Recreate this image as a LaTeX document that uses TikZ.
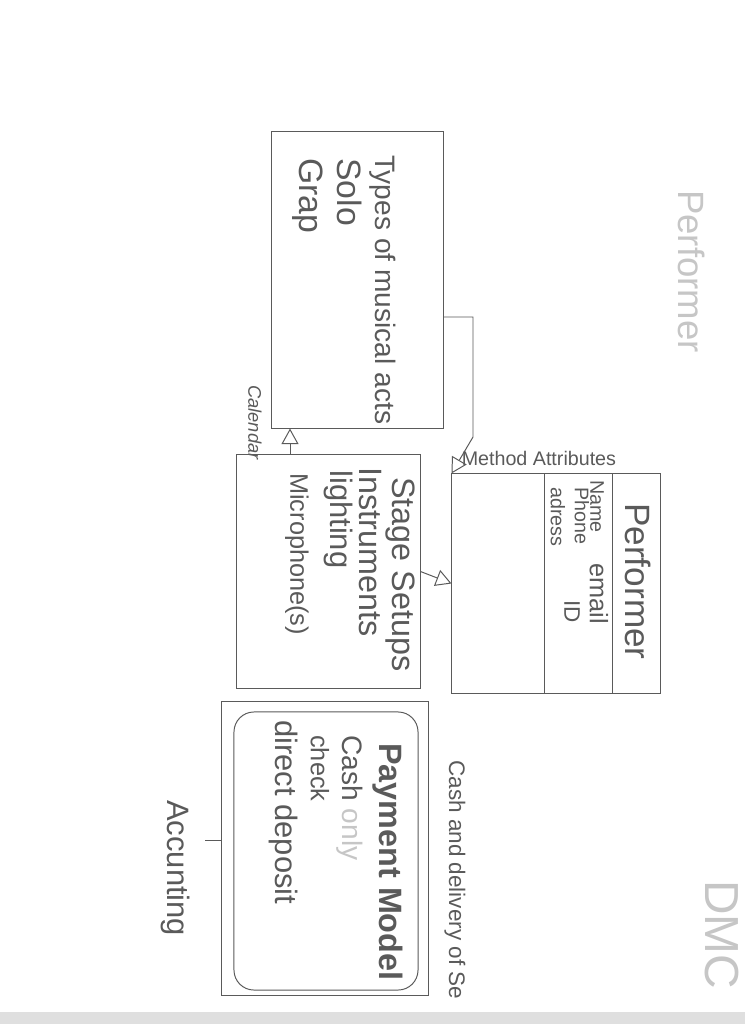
\documentclass[tikz,border=0pt]{standalone}
\usepackage{fontspec}
\setmainfont{Liberation Sans}
\usetikzlibrary{shapes,arrows,arrows.meta,positioning,calc}
\definecolor{pencil}{RGB}{90,90,90}
\newcommand{\fs}[1]{\fontsize{#1}{#1}\selectfont}
\tikzset{
box/.style = {draw=pencil, line width=0.7pt, rectangle, inner sep=0pt},
hand/.style = {text=pencil, rotate=-90, anchor=west, inner sep=0pt},
faint/.style = {text=gray!45, rotate=-90, anchor=west, inner sep=0pt},
link/.style = {draw=pencil, line width=0.7pt},
}

\begin{document}
\begin{tikzpicture}[x=0.025cm, y=-0.025cm, >={Triangle[open, length=11pt, width=12pt]}]
      \clip (0,0) rectangle (745,1024);
      \fill [white] (0,0) rectangle (745,1024);
      \fill [gray!25] (0,1012) rectangle (745,1024);
      % boxes
      \node [box, minimum width=4.275cm, minimum height=7.4cm] (types) at (357.5,280) {};
      \node [box, minimum width=4.575cm, minimum height=5.825cm] (stage) at (328.5,571.5) {};
      \node [box, minimum width=5.2cm, minimum height=5.475cm] (perf) at (556,583.5) {};
      \node [box, minimum width=5.15cm, minimum height=7.325cm] (pay) at (325,848.5) {};
      \node [box, rounded corners=0.5cm, minimum width=4.6cm, minimum height=6.95cm] (payin) at (326,851) {};
      \draw [link] ($(perf.north west)!0.447!(perf.north east)$) -- ($(perf.south west)!0.447!(perf.south east)$);
      \draw [link] ($(perf.north west)!0.769!(perf.north east)$) -- ($(perf.south west)!0.769!(perf.south east)$);
      % types of acts
      \node [hand, font=\fs{20}] (typestitle) at (383,155) {Types of musical acts};
      \node [hand, font=\fs{24}] (solo) at (350,158) {Solo};
      \node [hand, font=\fs{24}] (group) at (308,158) {Grap};
      % stage
      \node [hand, font=\fs{23}] (stagetitle) at (400,477) {Stage Setups};
      \node [hand, font=\fs{23}] (instr) at (370,467) {Instruments};
      \node [hand, font=\fs{22}] (light) at (338,470) {lighting};
      \node [hand, font=\fs{18}] (micro) at (297,473) {Microphone(s)};
      % performer
      \node [hand, font=\fs{25}] (perftitle) at (638,503) {Performer};
      \node [hand, font=\fs{14}] (name) at (597,480) {Name};
      \node [hand, font=\fs{18}] (email) at (599,563) {email};
      \node [hand, font=\fs{14}] (phone) at (582,487) {Phone};
      \node [hand, font=\fs{16}] (ident) at (572,600) {ID};
      \node [hand, font=\fs{14}] (adress) at (558,487) {adress};
      \node [text=pencil, font=\fs{14}, inner sep=0pt, above right=0.2cm and 0.25cm of perf.north west] (methattr) {Method Attributes};
      % payment
      \node [hand, font=\bfseries\fs{23}] (paytitle) at (388,743) {Payment Model};
      \node [hand, font=\fs{20}] (cash) at (350,735) {Cash \textcolor{gray!45}{only}};
      \node [hand, font=\fs{18}] (check) at (320,735) {check};
      \node [hand, font=\fs{22}] (deposit) at (283,720) {direct deposit};
      % outside labels
      \node [hand, font=\itshape\fs{13}] (calendar) at (255,385) {Calendar};
      \node [hand, font=\fs{22}] (accounting) at (175,800) {Accunting};
      \node [hand, font=\fs{16}] (delivery) at (455,760) {Cash and delivery of Se};
      \node [faint, font=\fs{26}] (perfnote) at (692,190) {Performer};
      \node [faint, font=\fs{34}] (dmc) at (722,880) {DMC};
      % connectors
      \coordinate (flap) at (473,317);
      \draw [link,->] (types.east |- flap) -- (flap) -- ++(0,120) -- (perf.north west);
      \coordinate (cal) at (290,0);
      \draw [link,->] (stage.north -| cal) -- (types.south -| cal);
      \draw [link,->] (stage.east) -- (perf.west);
      \coordinate (acctick) at (205,840);
      \draw [link] (pay.west |- acctick) -- (acctick);
\end{tikzpicture}
\end{document}
